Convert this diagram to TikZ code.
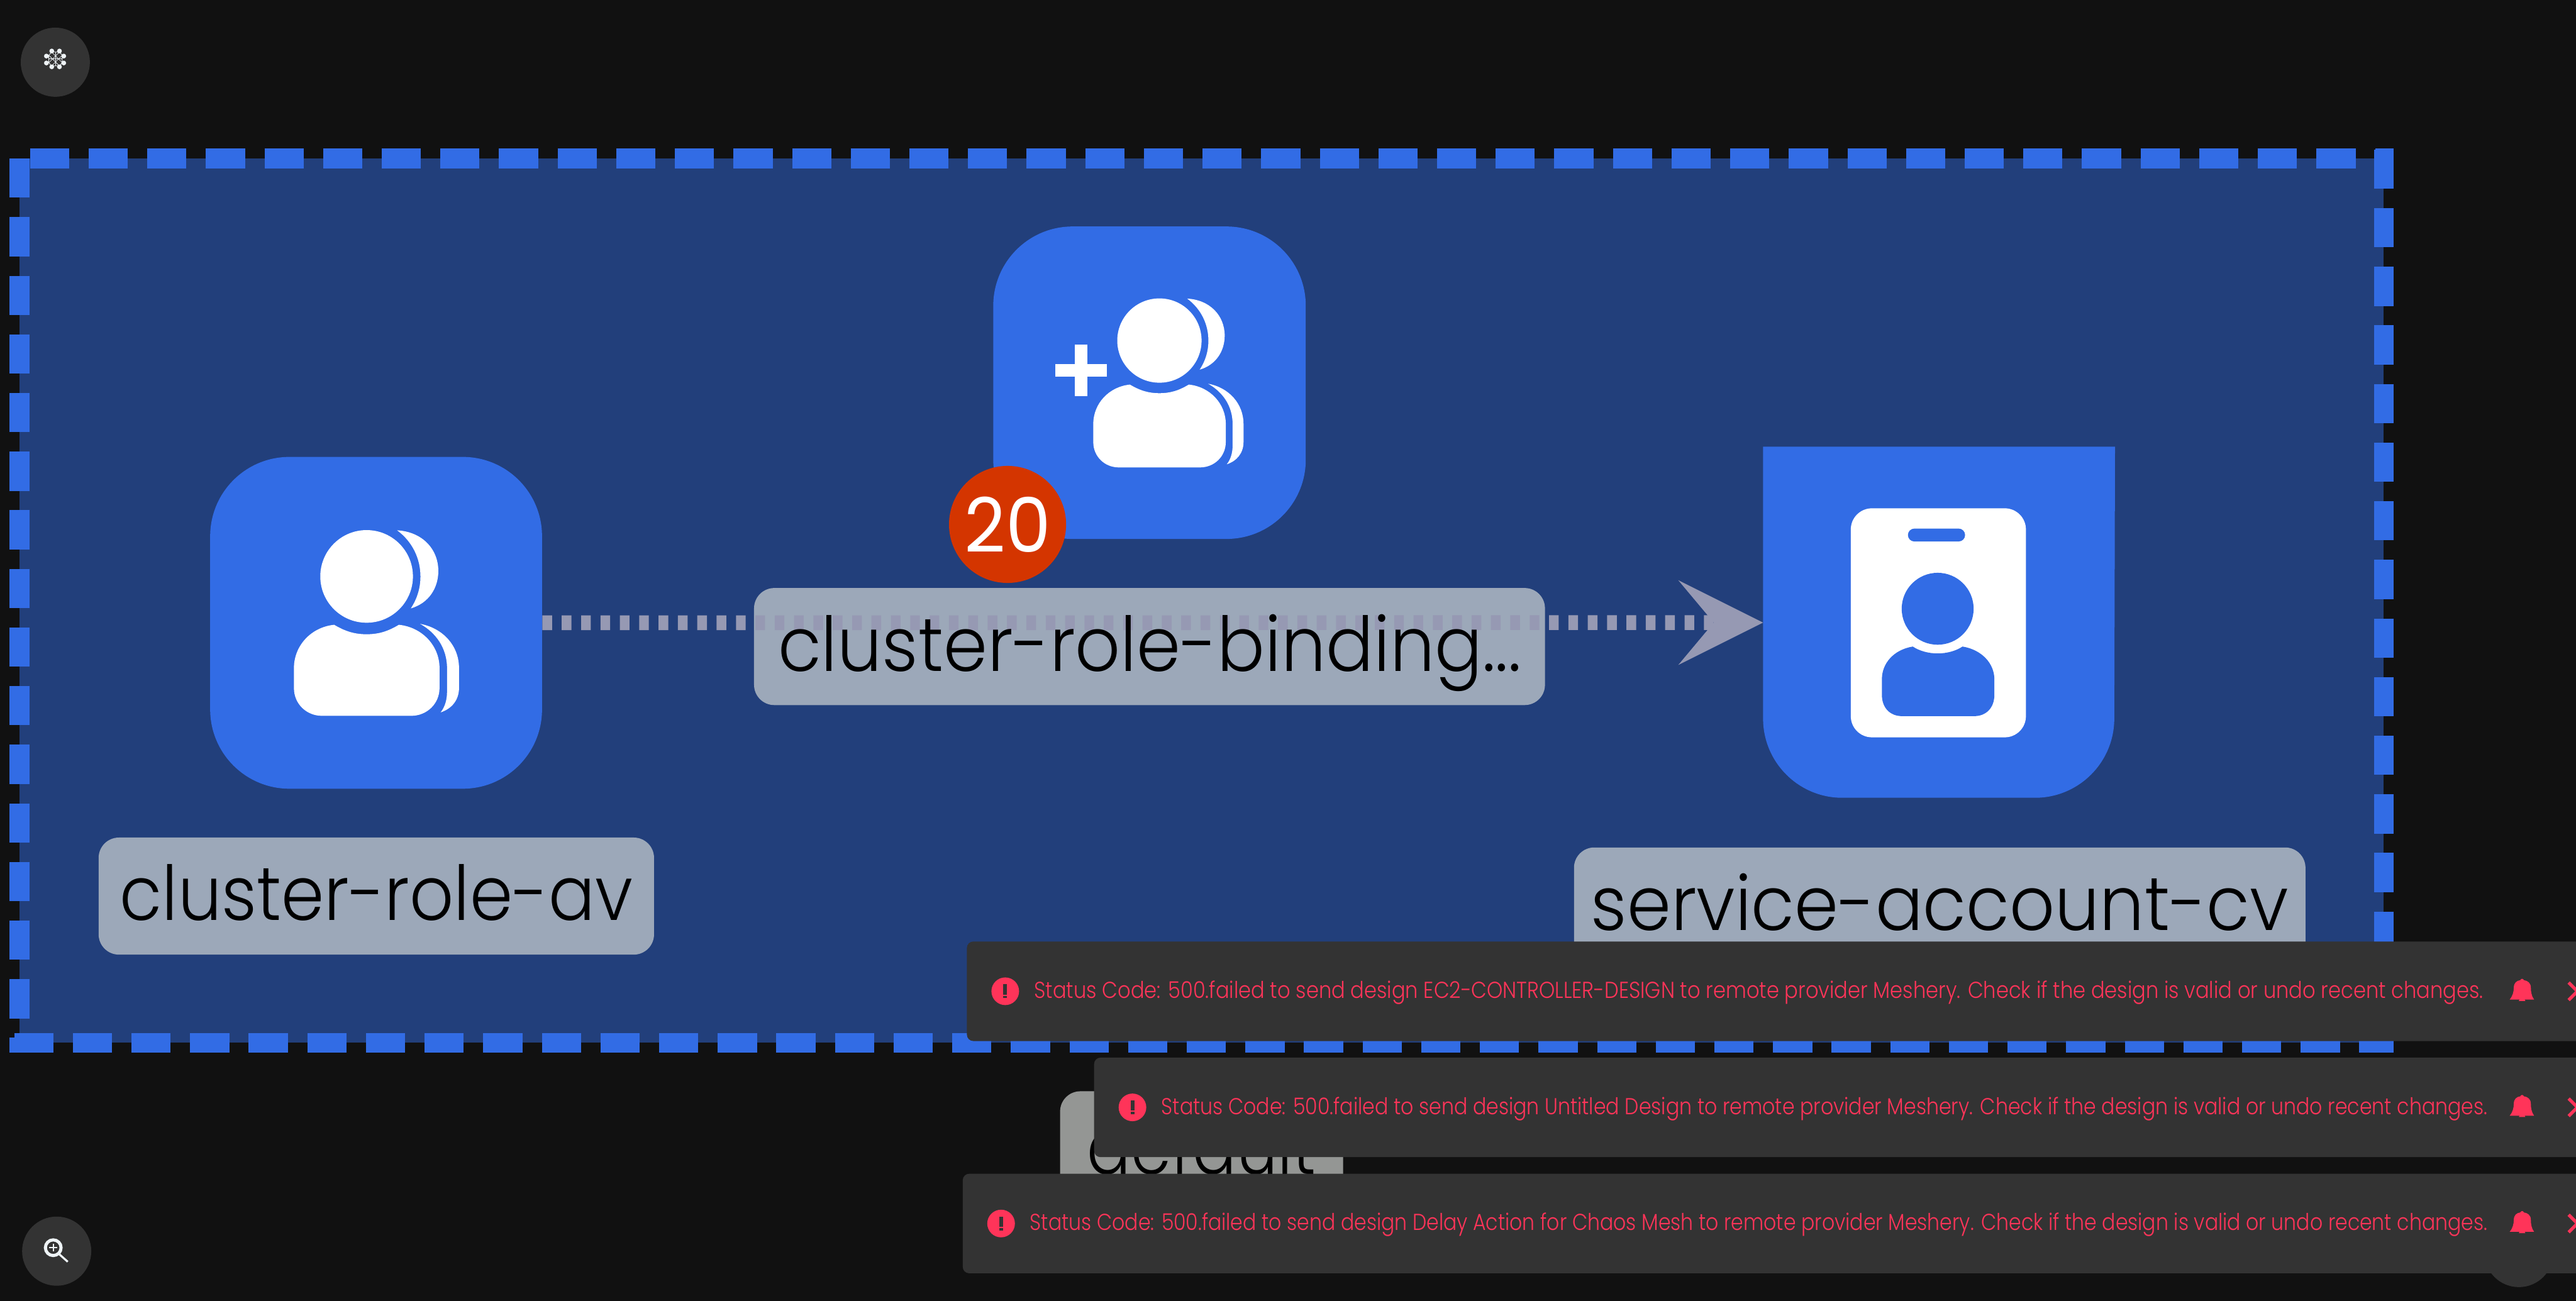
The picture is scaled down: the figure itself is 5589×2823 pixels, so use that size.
\documentclass[tikz,border=0pt]{standalone}
\usepackage{fontspec}
\usetikzlibrary{arrows.meta}
\newfontfamily\labelfont[FakeStretch=0.935]{Poppins Light}
\newfontfamily\toastfont[FakeStretch=0.876]{Poppins Light}
\newfontfamily\badgefont[FakeStretch=0.95]{Poppins}
\definecolor{canvasbg}{HTML}{111111}
\definecolor{groupfill}{HTML}{223F7B}
\definecolor{kubeblue}{HTML}{326CE5}
\definecolor{labelgrey}{HTML}{9CA8B9}
\definecolor{defaultgrey}{HTML}{949694}
\definecolor{edgegrey}{HTML}{9699B3}
\definecolor{badgered}{HTML}{D43500}
\definecolor{toastbg}{HTML}{333333}
\definecolor{toastred}{HTML}{FF3459}
\definecolor{iconwhite}{HTML}{EEF3F6}
\tikzset{
    groupborder/.style={draw=kubeblue,line width=10.75pt,dash pattern=on 21.25pt off 10.55pt},
    rolenode/.style={fill=kubeblue,rounded corners=43pt,inner sep=0pt},
    labelbox/.style={fill=labelgrey,rounded corners=11pt,inner sep=0pt,text height=45pt,text depth=18.5pt},
    labeltext/.style={inner sep=0pt,text height=45pt,text depth=18.5pt,font=\labelfont\fontsize{41}{41}\selectfont},
    roundbutton/.style={circle,fill=toastbg,minimum size=37.5pt,inner sep=0pt},
    toastbox/.style={fill=toastbg,rounded corners=3.5pt,anchor=west,minimum height=54pt,inner sep=0pt},
    toasttext/.style={text=toastred,anchor=base west,inner sep=0pt,font=\toastfont\fontsize{12.5}{12.5}\selectfont}
}
\newcommand{\usericon}[3]{
    \begin{scope}[shift={(#1,#2)},scale=#3,fill=white]
        \fill (0,0) circle (100.5);
        \fill (66.3,-100) .. controls (120,-97) and (155.6,-60) .. (155.6,-11.7) .. controls (155.6,25) and (135,58) .. (96,69.4) .. controls (110,48) and (116.8,25) .. (116.8,0) .. controls (116.8,-38) and (100,-75) .. (66.3,-100) -- cycle;
        \fill (-70.4,105) .. controls (-45,120) and (-25,125.5) .. (0,125.5) .. controls (25,125.5) and (45,120) .. (70,105) .. controls (120,110) and (158.2,150) .. (158.2,199) -- (158.2,242) .. controls (158.2,277) and (130,302.5) .. (97,302.5) -- (-97,302.5) .. controls (-130,302.5) and (-157.7,277) .. (-157.7,242) -- (-157.7,199) .. controls (-157.7,150) and (-120,110) .. (-70.4,105) -- cycle;
        \fill (116.3,103) .. controls (165,112) and (200.5,150) .. (200.5,199) -- (200.5,242) .. controls (200.5,268) and (185,287) .. (160.7,295) .. controls (170,283) and (174.5,268) .. (174.5,250) -- (174.5,199) .. controls (174.5,155) and (150,122) .. (116.3,103) -- cycle;
    \end{scope}
}
\begin{document}
\begin{tikzpicture}[x=0.25pt,y=-0.25pt]
    \useasboundingbox (0,0) rectangle (5589,2823);
    \fill[canvasbg] (0,0) rectangle (5589,2823);
    % group box
    \fill[groupfill] (42,344) rectangle (5172,2263);
    \draw[groupborder,dash phase=26.05pt] (42,344) -- (5193,344);
    \draw[groupborder] (5172,324.5) -- (5172,2284);
    \draw[groupborder,dash phase=29.34pt] (21,2263) -- (5193,2263);
    \draw[groupborder] (42,344) -- (42,2284);
    % buttons
    \node[roundbutton] (layout-btn) at (120,135) {};
    \node[roundbutton] (zoom-btn) at (123,2715) {};
    \node[roundbutton] (corner-btn) at (5465,2718) {};
    \foreach \a/\b in {112.3/110.7,129/110.7,100.7/121.7,138.3/121.7,100.7/136.7,138.3/136.7,112.3/145,129/145}
        \fill[iconwhite] (\a,\b) circle (5.2);
    \draw[iconwhite,line width=0.3pt] (112,113) -- (129,113) -- (135,120) -- (135,136) -- (129,143) -- (112,143) -- (106,136) -- (106,120) -- cycle;
    \foreach \a/\b/\c/\d in {112/113/135/136,129/113/106/136,106/120/129/143,135/120/112/143,120.5/113/120.5/143,106/128/135/128}
        \draw[iconwhite,line width=0.25pt] (\a,\b) -- (\c,\d);
    \draw[iconwhite,line width=1.7pt] (115.5,2707.5) circle (17);
    \draw[iconwhite,line width=0.6pt] (107,2707.5) -- (124,2707.5) (115.5,2699) -- (115.5,2716);
    \draw[iconwhite,line width=1.1pt] (129,2722) -- (147,2738);
    % kubernetes nodes
    \node[rolenode,minimum size=180pt] (av) at (816,1351.5) {};
    \node[rolenode,minimum size=169.5pt] (binding) at (2494,830.5) {};
    \node[inner sep=0pt,minimum size=190.5pt] (account) at (4207,1351) {};
    \fill[kubeblue] (account.north west) -- ++(0,590) arc[start angle=180,end angle=90,radius=172] -- ++(418,0) arc[start angle=90,end angle=0,radius=172] -- (account.north east) -- cycle;
    \usericon{795.4}{1250.8}{1}
    \usericon{2515.5}{739}{0.91}
    \fill[white] (2331.5,748) rectangle (2359,860);
    \fill[white] (2289,789.5) rectangle (2401,817);
    % badge on the binding
    \node[circle,fill=badgered,minimum size=63.5pt,inner sep=0pt,text=white,font=\badgefont\fontsize{41}{41}\selectfont] (badge) at (2186,1138) {20};
    % id card
    \fill[white,rounded corners=11.5pt] (4015.5,1103) rectangle (4395.5,1600);
    \fill[kubeblue,rounded corners=3.5pt] (4139.5,1147) rectangle (4263.5,1175);
    \fill[kubeblue] (4204,1321) circle (78);
    \fill[kubeblue] (4150,1403) .. controls (4165,1413) and (4185,1418) .. (4204,1418) .. controls (4223,1418) and (4243,1413) .. (4258,1403) .. controls (4300,1410) and (4327,1440) .. (4327,1474) -- (4327,1508) .. controls (4327,1535) and (4310,1554) .. (4283,1554) -- (4127,1554) .. controls (4100,1554) and (4083,1535) .. (4083,1508) -- (4083,1474) .. controls (4083,1440) and (4108,1410) .. (4150,1403) -- cycle;
    % labels
    \node[labelbox,minimum width=301.25pt] (av-label) at (816.5,1944.5) {};
    \node[labeltext] at (av-label) {\scalebox{0.975}[1]{cluster-role-av}};
    \node[labelbox,minimum width=429pt] (binding-label) at (2494,1403) {};
    \draw[edgegrey,line width=8pt,dash pattern=on 5.25pt off 5.25pt,-{Stealth[length=46pt,width=46pt,inset=19.25pt,line width=0pt]}] (av.east) -- (account.west);
    \node[labeltext] at (binding-label) {cluster-role-binding...};
    \node[labelbox,minimum width=396.75pt] (account-label) at (4208.5,1966) {};
    \node[labeltext] at (account-label) {service-account-cv};
    \node[labelbox,fill=defaultgrey,minimum width=153.5pt] (default-label) at (2607,2495) {};
    \node[labeltext] at (default-label) {\scalebox{0.92}[1]{default}};
    % toasts
    \foreach \i/\tx/\ty/\sx/\msg in {1/2097/2151/1/EC2-CONTROLLER-DESIGN,2/2373/2403/0.984/Untitled Design,3/2088/2655/0.982/Delay Action for Chaos Mesh} {
        \node[toastbox,minimum width={(5620-\tx)*0.25pt}] (toast-\i) at (\tx,\ty) {};
        \fill[toastred] (\tx+84,\ty) circle (30);
        \fill[toastbg] (\tx+80,\ty-15) rectangle (\tx+88,\ty+7);
        \fill[toastbg] (\tx+80,\ty+10) rectangle (\tx+88,\ty+15);
        \node[toasttext] at (\tx+146,\ty+15) {\scalebox{\sx}[1]{Status Code: 500.failed to send design \msg{} to remote provider Meshery. Check if the design is valid or undo recent changes.}};
        % bell and close mark
        \fill[toastred] (5445,\ty+18) .. controls (5452,\ty+10) and (5454,\ty) .. (5454,\ty-8) .. controls (5454,\ty-18) and (5460,\ty-23) .. (5468,\ty-24) .. controls (5470,\ty-28) and (5474,\ty-28) .. (5476,\ty-24) .. controls (5484,\ty-23) and (5491,\ty-18) .. (5491,\ty-8) .. controls (5491,\ty) and (5492,\ty+10) .. (5498,\ty+18) -- cycle;
        \fill[toastred] (5465,\ty+21) arc[start angle=180,end angle=360,radius=7];
        \draw[toastred,line width=1.75pt] (5573,\ty-19) -- (5611,\ty+19) (5573,\ty+19) -- (5611,\ty-19);
    }
\end{tikzpicture}
\end{document}
